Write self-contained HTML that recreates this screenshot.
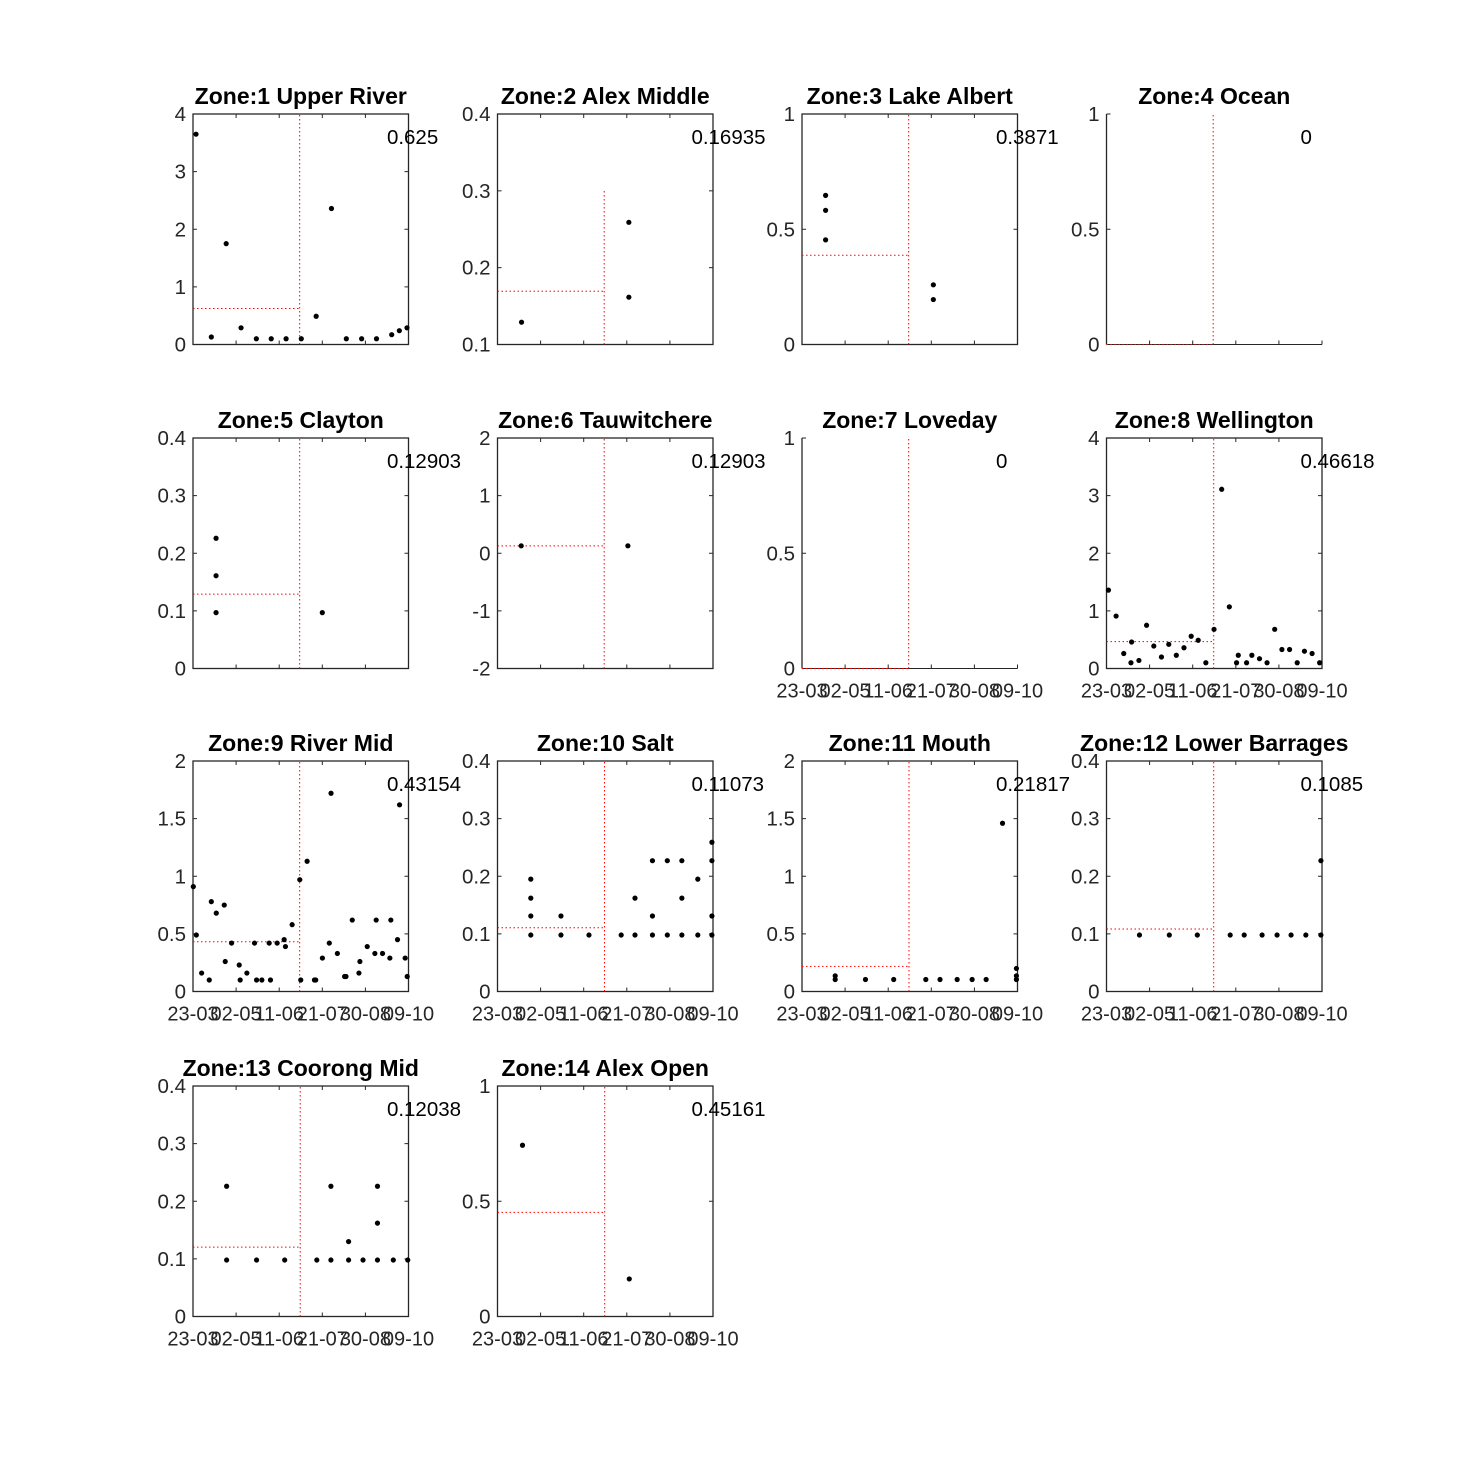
<!DOCTYPE html>
<html><head><meta charset="utf-8"><style>
html,body{margin:0;padding:0;background:#fff;}
svg{display:block;font-family:"Liberation Sans",Arial,sans-serif;}
</style></head>
<body>
<svg id="chart" width="1476" height="1476" viewBox="0 0 1476 1476" xmlns="http://www.w3.org/2000/svg">
<rect x="0" y="0" width="1476" height="1476" fill="#fff"/>
</svg>
<script>
const zoneNames = ["Zone:1 Upper River","Zone:2 Alex Middle","Zone:3 Lake Albert","Zone:4 Ocean","Zone:5 Clayton","Zone:6 Tauwitchere","Zone:7 Loveday","Zone:8 Wellington","Zone:9 River Mid","Zone:10 Salt","Zone:11 Mouth","Zone:12 Lower Barrages","Zone:13 Coorong Mid","Zone:14 Alex Open"];
const zoneMeanLabels = ["0.625","0.16935","0.3871","0","0.12903","0.12903","0","0.46618","0.43154","0.11073","0.21817","0.1085","0.12038","0.45161"];
const zoneMeans = [0.625,0.16935,0.3871,0,0.12903,0.12903,0,0.46618,0.43154,0.11073,0.21817,0.1085,0.12038,0.45161];
const zoneYMin = [0,0.1,0,0,0,-2,0,0,0,0,0,0,0,0];
const zoneYMax = [4,0.4,1,1,0.4,2,1,4,2,0.4,2,0.4,0.4,1];
const zoneYTicks = [[0,1,2,3,4],[0.1,0.2,0.3,0.4],[0,0.5,1],[0,0.5,1],[0,0.1,0.2,0.3,0.4],[-2,-1,0,1,2],[0,0.5,1],[0,1,2,3,4],[0,0.5,1,1.5,2],[0,0.1,0.2,0.3,0.4],[0,0.5,1,1.5,2],[0,0.1,0.2,0.3,0.4],[0,0.1,0.2,0.3,0.4],[0,0.5,1]];
const zoneSplitDay = [99,99,99,99,99,99,99,99.5,99,99.3,99.3,99.5,99.5,99.5];
const zoneSplitTop = [null,0.3,null,null,null,null,null,null,null,null,null,null,null,null];
const xTickDays = [0,40,80,120,160,200];
const xTickLabels = ["23-03","02-05","11-06","21-07","30-08","09-10"];
const xDayMax = 200;

const z1Days = [2.8,17,30.8,44.6,58.8,72.6,86.4,100.5,114.3,128.5,142.3,156.5,170.3,184.4,191.5,198.6];
const z1Vals = [3.65,0.13,1.75,0.29,0.10,0.10,0.10,0.10,0.49,2.36,0.10,0.10,0.10,0.17,0.24,0.29];
const z2Days = [22.3,121.9,121.9];
const z2Vals = [0.129,0.259,0.1616];
const z3Days = [21.9,21.9,21.9,121.9,121.9];
const z3Vals = [0.647,0.582,0.454,0.259,0.195];
const z4Days = [];
const z4Vals = [];
const z5Days = [21.4,21.4,21.4,120];
const z5Vals = [0.226,0.161,0.097,0.097];
const z6Days = [22,121];
const z6Vals = [0.129,0.129];
const z7Days = [];
const z7Vals = [];
const z8Days = [1.8,8.9,16,22.7,23.3,30.1,37.2,43.9,51,57.8,64.8,71.9,78.6,85.1,92.2,99.8,106.9,114,120.7,122.3,130,134.9,142,149,156.1,162.8,169.9,177,183.7,190.8,197.8];
const z8Vals = [1.36,0.91,0.26,0.10,0.46,0.14,0.75,0.39,0.20,0.42,0.23,0.36,0.56,0.49,0.10,0.68,3.11,1.07,0.10,0.23,0.10,0.23,0.17,0.10,0.68,0.33,0.33,0.10,0.30,0.26,0.10];
const z9Days = [0.3,3.1,8,15.1,17,21.6,29,29.9,35.8,42.9,43.8,50,57.1,59,63.9,70.7,71.9,78.1,84.6,85.8,92,99.1,100,105.9,112.7,113.9,120.1,126.5,128.1,134,140.7,142,147.8,154,154.9,161.7,168.8,170,175.9,182.7,183.6,189.8,191.7,196.9,198.8];
const z9Vals = [0.91,0.49,0.16,0.10,0.78,0.68,0.75,0.26,0.42,0.23,0.10,0.16,0.42,0.10,0.10,0.42,0.10,0.42,0.45,0.39,0.58,0.97,0.10,1.13,0.10,0.10,0.29,0.42,1.72,0.33,0.13,0.13,0.62,0.16,0.26,0.39,0.33,0.62,0.33,0.29,0.62,0.45,1.62,0.29,0.13];
const z10Days = [30.9,30.9,30.9,30.9,58.9,58.9,84.9,114.8,127.6,127.6,143.8,143.8,143.8,157.6,157.6,171.1,171.1,171.1,185.9,185.9,199,199,199,199];
const z10Vals = [0.098,0.131,0.162,0.195,0.098,0.131,0.098,0.098,0.098,0.162,0.098,0.131,0.227,0.098,0.227,0.098,0.162,0.227,0.098,0.195,0.098,0.131,0.227,0.259];
const z11Days = [30.8,30.8,58.9,85.1,114.9,128.1,144,157.9,170.9,186.1,199,199,199];
const z11Vals = [0.136,0.104,0.104,0.104,0.104,0.104,0.104,0.104,0.104,1.46,0.2,0.136,0.104];
const z12Days = [30.6,58.3,84.3,114.8,127.8,144.4,158.3,171.3,185,199,199];
const z12Vals = [0.098,0.098,0.098,0.098,0.098,0.098,0.098,0.098,0.098,0.098,0.227];
const z13Days = [31.2,31.2,59,85.1,114.9,128,128,144.4,144.4,157.8,171.2,171.2,171.2,185.9,199.3];
const z13Vals = [0.098,0.226,0.098,0.098,0.098,0.098,0.226,0.098,0.130,0.098,0.098,0.162,0.226,0.098,0.098];
const z14Days = [23.2,122.3];
const z14Vals = [0.743,0.163];

const zoneDays = [z1Days,z2Days,z3Days,z4Days,z5Days,z6Days,z7Days,z8Days,z9Days,z10Days,z11Days,z12Days,z13Days,z14Days];
const zoneVals = [z1Vals,z2Vals,z3Vals,z4Vals,z5Vals,z6Vals,z7Vals,z8Vals,z9Vals,z10Vals,z11Vals,z12Vals,z13Vals,z14Vals];
const showXLabels = [false,false,false,false,false,false,true,true,true,true,true,true,true,true];
const noBox = [false,false,false,true,false,false,true,false,false,false,false,false,false,false];

const NS = "http://www.w3.org/2000/svg";
const svg = document.getElementById("chart");
const colLeft = [193,497.5,802,1106.5];
const rowTop = [114,438,761,1086];
const W = 215.5, H = 230.5;
const AX = "#262626";

function mk(tag, attrs, parent){
  const e = document.createElementNS(NS, tag);
  for (const k in attrs) e.setAttribute(k, attrs[k]);
  (parent||svg).appendChild(e);
  return e;
}

for (let i = 0; i < 14; i++) {
  const L = colLeft[i % 4], T = rowTop[Math.floor(i / 4)], B = T + H, R = L + W;
  const y0 = zoneYMin[i], y1 = zoneYMax[i];
  const xs = d => L + d / xDayMax * W;
  const ys = v => B - (v - y0) / (y1 - y0) * H;

  const g = mk("g", {});
  
  

  if (noBox[i]) {
    const l1 = mk("line", {x1:L,y1:T,x2:L,y2:B,stroke:AX,"stroke-width":1.3}, g);
    
    
    const l2 = mk("line", {x1:L,y1:B,x2:R,y2:B,stroke:AX,"stroke-width":1}, g);
    
    
  } else {
    const fr = mk("rect", {x:L,y:T,width:W,height:H,fill:"none",stroke:AX,"stroke-width":1.3}, g);
    
    
  }

  xTickDays.forEach((d, k) => {
    const x = xs(d);
    const t = mk("line", {x1:x,y1:B,x2:x,y2:B-4,stroke:AX,"stroke-width":1}, g);
    
    
    if (!noBox[i]) {
      const t2 = mk("line", {x1:x,y1:T,x2:x,y2:T+4,stroke:AX,"stroke-width":1}, g);
      
      
    }
    if (showXLabels[i]) {
      const tx = mk("text", {x:x,y:B+29,"text-anchor":"middle","font-size":20,fill:AX}, g);
      tx.textContent = xTickLabels[k];
      
      
    }
  });

  zoneYTicks[i].forEach(v => {
    const y = ys(v);
    const t = mk("line", {x1:L,y1:y,x2:L+4,y2:y,stroke:AX,"stroke-width":1}, g);
    
    
    if (!noBox[i]) {
      const t2 = mk("line", {x1:R,y1:y,x2:R-4,y2:y,stroke:AX,"stroke-width":1}, g);
      
      
    }
    const tx = mk("text", {x:L-7,y:y+7,"text-anchor":"end","font-size":20.5,fill:AX}, g);
    tx.textContent = String(v);
    
    
  });

  const sx = xs(zoneSplitDay[i]);
  const vt = zoneSplitTop[i] === null ? T : ys(zoneSplitTop[i]);
  const vl = mk("line", {x1:sx,y1:B,x2:sx,y2:vt,stroke:"#ff0000","stroke-width":1,"stroke-dasharray":"1.5 2.5"}, g);
  
  

  const my = ys(zoneMeans[i]);
  const ml = mk("line", {x1:L,y1:my,x2:sx,y2:my,stroke:"#ff0000","stroke-width":1,"stroke-dasharray":"1.5 2.5"}, g);
  
  

  zoneDays[i].forEach((d, k) => {
    const c = mk("circle", {cx:xs(d),cy:ys(zoneVals[i][k]),r:2.6,fill:"#000"}, g);
    
    
  });

  const ti = mk("text", {x:L+W/2,y:T-10,"text-anchor":"middle","font-size":23,"font-weight":"bold",fill:"#000"}, g);
  ti.textContent = zoneNames[i];
  
  

  const an = mk("text", {x:L+0.9*W,y:T+0.1*H+7,"font-size":20.5,fill:"#000"}, g);
  an.textContent = zoneMeanLabels[i];
  
  
}
</script>
</body></html>
